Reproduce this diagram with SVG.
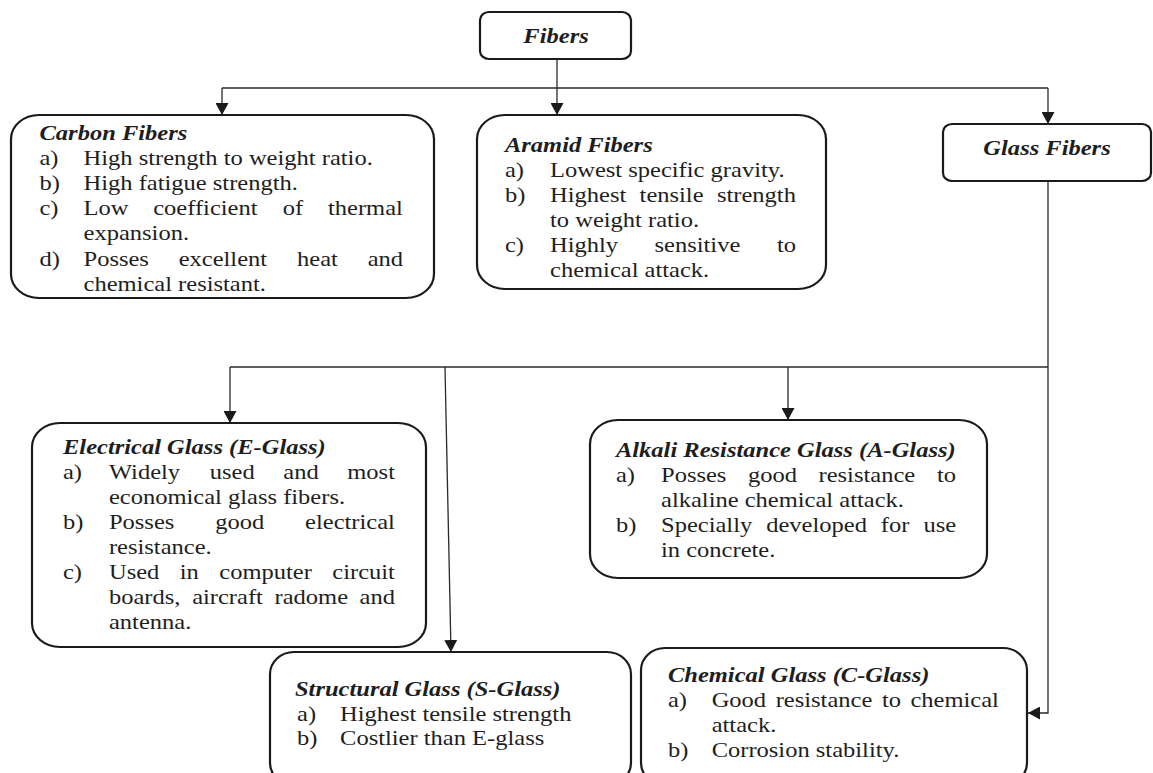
<svg xmlns="http://www.w3.org/2000/svg" width="1153" height="773" viewBox="0 0 1153 773">
<style>
.box{fill:#fff;stroke:#1a1a1a;stroke-width:2.2}
.t{font-family:"Liberation Serif","Times New Roman",serif;font-size:21.6px;fill:#1e1e1e}
.h{font-weight:bold;font-style:italic}
.m{text-anchor:middle}
.c{fill:none;stroke:#2a2a2a;stroke-width:1.3}
</style>
<defs>
<marker id="arr" markerUnits="userSpaceOnUse" markerWidth="12" markerHeight="13" refX="12" refY="6.5" orient="auto">
<path d="M0,0 L12,6.5 L0,13 z" fill="#1a1a1a"/>
</marker>
</defs>
<rect width="1153" height="773" fill="#fff"/>

<g id="connectors">
<path class="c" d="M222,88 H1048"/>
<path class="c" d="M557,59 V115" marker-end="url(#arr)"/>
<path class="c" d="M222,88 V115" marker-end="url(#arr)"/>
<path class="c" d="M1048,88 V124" marker-end="url(#arr)"/>
<path class="c" d="M1048,181 V713 H1028" marker-end="url(#arr)"/>
<path class="c" d="M230,367 H1048"/>
<path class="c" d="M230,367 V423" marker-end="url(#arr)"/>
<path class="c" d="M788,367 V420" marker-end="url(#arr)"/>
<path class="c" d="M445,367 L451,652" marker-end="url(#arr)"/>
</g>

<g id="fibers">
<rect class="box" x="480" y="12" width="151" height="47" rx="9" ry="8"/>
<g transform="scale(1.135 1)"><text class="t h m" x="489.9" y="43">Fibers</text></g>
</g>

<g id="carbon">
<rect class="box" x="11" y="115" width="423" height="183" rx="28" ry="24"/>
<g class="t" transform="scale(1.135 1)">
<text class="t h" x="34.8" y="140">Carbon Fibers</text>
<text class="t" x="34.8" y="165">a)</text><text class="t" x="73.6" y="165">High strength to weight ratio.</text>
<text class="t" x="34.8" y="190">b)</text><text class="t" x="73.6" y="190">High fatigue strength.</text>
<text class="t" x="34.8" y="215">c)</text><text class="t" y="215"><tspan x="73.6">Low</tspan><tspan x="135.0">coefficient</tspan><tspan x="249.2">of</tspan><tspan x="289.0">thermal</tspan></text>
<text class="t" x="73.6" y="240">expansion.</text>
<text class="t" x="34.8" y="266">d)</text><text class="t" y="266"><tspan x="73.6">Posses</tspan><tspan x="157.4">excellent</tspan><tspan x="261.7">heat</tspan><tspan x="324.0">and</tspan></text>
<text class="t" x="73.6" y="291">chemical resistant.</text>
</g>
</g>

<g id="aramid">
<rect class="box" x="477" y="115" width="349" height="174" rx="28" ry="24"/>
<g transform="scale(1.135 1)">
<text class="t h" x="444.9" y="152">Aramid Fibers</text>
<text class="t" x="444.9" y="177">a)</text><text class="t" x="484.6" y="177">Lowest specific gravity.</text>
<text class="t" x="444.9" y="202">b)</text><text class="t" y="202"><tspan x="484.6">Highest</tspan><tspan x="563.5">tensile</tspan><tspan x="631.7">strength</tspan></text>
<text class="t" x="484.6" y="227">to weight ratio.</text>
<text class="t" x="444.9" y="252">c)</text><text class="t" y="252"><tspan x="484.6">Highly</tspan><tspan x="576.7">sensitive</tspan><tspan x="684.5">to</tspan></text>
<text class="t" x="484.6" y="277">chemical attack.</text>
</g>
</g>

<g id="glass">
<rect class="box" x="943" y="124" width="208" height="57" rx="9" ry="8"/>
<g transform="scale(1.135 1)"><text class="t h m" x="922.5" y="155">Glass Fibers</text></g>
</g>

<g id="eglass">
<rect class="box" x="32" y="423" width="394" height="224" rx="28" ry="24"/>
<g transform="scale(1.135 1)">
<text class="t h" x="55.5" y="454">Electrical Glass (E-Glass)</text>
<text class="t" x="55.5" y="479">a)</text><text class="t" y="479"><tspan x="96.0">Widely</tspan><tspan x="184.8">used</tspan><tspan x="249.6">and</tspan><tspan x="306.0">most</tspan></text>
<text class="t" x="96.0" y="504">economical glass fibers.</text>
<text class="t" x="55.5" y="529">b)</text><text class="t" y="529"><tspan x="96.0">Posses</tspan><tspan x="189.6">good</tspan><tspan x="268.8">electrical</tspan></text>
<text class="t" x="96.0" y="554">resistance.</text>
<text class="t" x="55.5" y="579">c)</text><text class="t" y="579"><tspan x="96.0">Used</tspan><tspan x="158.4">in</tspan><tspan x="193.2">computer</tspan><tspan x="292.8">circuit</tspan></text>
<text class="t" y="604"><tspan x="96.0">boards,</tspan><tspan x="169.3">aircraft</tspan><tspan x="241.9">radome</tspan><tspan x="316.8">and</tspan></text>
<text class="t" x="96.0" y="629">antenna.</text>
</g>
</g>

<g id="aglass">
<rect class="box" x="590" y="420" width="397" height="158" rx="28" ry="24"/>
<g transform="scale(1.135 1)">
<text class="t h" x="542.7" y="457">Alkali Resistance Glass (A-Glass)</text>
<text class="t" x="542.7" y="482">a)</text><text class="t" y="482"><tspan x="582.4">Posses</tspan><tspan x="659.0">good</tspan><tspan x="721.2">resistance</tspan><tspan x="825.5">to</tspan></text>
<text class="t" x="582.4" y="507">alkaline chemical attack.</text>
<text class="t" x="542.7" y="532">b)</text><text class="t" y="532"><tspan x="582.4">Specially</tspan><tspan x="675.1">developed</tspan><tspan x="776.1">for</tspan><tspan x="813.6">use</tspan></text>
<text class="t" x="582.4" y="557">in concrete.</text>
</g>
</g>

<g id="sglass">
<rect class="box" x="270" y="652" width="361" height="133" rx="24" ry="22"/>
<g transform="scale(1.135 1)">
<text class="t h" x="259.9" y="696">Structural Glass (S-Glass)</text>
<text class="t" x="261.7" y="721">a)</text><text class="t" x="299.6" y="721">Highest tensile strength</text>
<text class="t" x="261.7" y="745">b)</text><text class="t" x="299.6" y="745">Costlier than E-glass</text>
</g>
</g>

<g id="cglass">
<rect class="box" x="641" y="648" width="386" height="137" rx="24" ry="22"/>
<g transform="scale(1.135 1)">
<text class="t h" x="588.5" y="682">Chemical Glass (C-Glass)</text>
<text class="t" x="588.5" y="707">a)</text><text class="t" y="707"><tspan x="627.0">Good</tspan><tspan x="683.4">resistance</tspan><tspan x="777.0">to</tspan><tspan x="802.2">chemical</tspan></text>
<text class="t" x="627.0" y="732">attack.</text>
<text class="t" x="588.5" y="757">b)</text><text class="t" x="627.0" y="757">Corrosion stability.</text>
</g>
</g>
</svg>
